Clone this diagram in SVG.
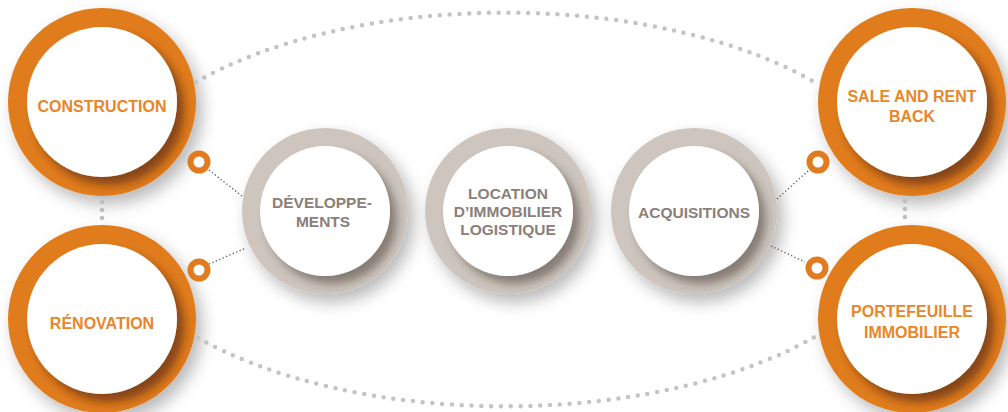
<svg xmlns="http://www.w3.org/2000/svg" width="1008" height="412" viewBox="0 0 1008 412">
<style>
.bigdots{fill:none;stroke:#c3c6c0;stroke-width:4.5;stroke-linecap:round;stroke-dasharray:0 9.8}
.vdot{fill:#bdc0ba}
.link{fill:none;stroke:#5a5a5a;stroke-width:1.3;stroke-dasharray:1.3 2.4}
.port{fill:#fff;stroke:#e07b1f;stroke-width:6}
.oring{fill:#e07b1f}
.gring{fill:#cec6be}
.inner{fill:#fff}
.otxt{font-family:"Liberation Sans",Arial,Helvetica,sans-serif;font-weight:bold;font-size:16px;fill:#e8862a;text-anchor:middle}
.gtxt{font-family:"Liberation Sans",Arial,Helvetica,sans-serif;font-weight:bold;font-size:15.5px;fill:#8a8079;text-anchor:middle}
</style>
<defs>
<filter id="outerShadow" x="-40%" y="-40%" width="180%" height="180%">
<feDropShadow dx="6" dy="8" stdDeviation="8" flood-color="#000" flood-opacity="0.28"/>
</filter>
<filter id="innerO" x="-40%" y="-40%" width="180%" height="180%">
<feDropShadow dx="7" dy="8" stdDeviation="5" flood-color="#4a2408" flood-opacity="0.6"/>
</filter>
<filter id="innerG" x="-40%" y="-40%" width="180%" height="180%">
<feDropShadow dx="7" dy="8" stdDeviation="5" flood-color="#3a3028" flood-opacity="0.5"/>
</filter>
<clipPath id="clipO"><circle cx="0" cy="0" r="94"/></clipPath>
<clipPath id="clipG"><circle cx="0" cy="0" r="83"/></clipPath>
</defs>
<rect width="1008" height="412" fill="#fff"/>

<g id="node-construction" transform="translate(102,102)">
<circle class="oring" r="94" filter="url(#outerShadow)"/>
<g clip-path="url(#clipO)"><circle class="inner" r="75" filter="url(#innerO)"/></g>
<text class="otxt" x="0" y="10">CONSTRUCTION</text>
</g>

<g id="node-renovation" transform="translate(102,319)">
<circle class="oring" r="94" filter="url(#outerShadow)"/>
<g clip-path="url(#clipO)"><circle class="inner" r="75" filter="url(#innerO)"/></g>
<text class="otxt" x="0" y="10">RÉNOVATION</text>
</g>

<g id="node-sale" transform="translate(912,102)">
<circle class="oring" r="94" filter="url(#outerShadow)"/>
<g clip-path="url(#clipO)"><circle class="inner" r="75" filter="url(#innerO)"/></g>
<text class="otxt" x="0" y="0">SALE AND RENT</text>
<text class="otxt" x="0" y="20">BACK</text>
</g>

<g id="node-portefeuille" transform="translate(912,319)">
<circle class="oring" r="94" filter="url(#outerShadow)"/>
<g clip-path="url(#clipO)"><circle class="inner" r="75" filter="url(#innerO)"/></g>
<text class="otxt" x="0" y="-2">PORTEFEUILLE</text>
<text class="otxt" x="0" y="19">IMMOBILIER</text>
</g>

<g id="node-developpements" transform="translate(325,211)">
<circle class="gring" r="83" filter="url(#outerShadow)"/>
<g clip-path="url(#clipG)"><circle class="inner" r="65" filter="url(#innerG)"/></g>
<text class="gtxt" x="-3" y="-3">DÉVELOPPE-</text>
<text class="gtxt" x="-2" y="16">MENTS</text>
</g>

<g id="node-location" transform="translate(508,211)">
<circle class="gring" r="83" filter="url(#outerShadow)"/>
<g clip-path="url(#clipG)"><circle class="inner" r="65" filter="url(#innerG)"/></g>
<text class="gtxt" x="0" y="-12">LOCATION</text>
<text class="gtxt" x="0" y="6">D’IMMOBILIER</text>
<text class="gtxt" x="0" y="24">LOGISTIQUE</text>
</g>

<g id="node-acquisitions" transform="translate(694,211)">
<circle class="gring" r="83" filter="url(#outerShadow)"/>
<g clip-path="url(#clipG)"><circle class="inner" r="65" filter="url(#innerG)"/></g>
<text class="gtxt" x="0" y="7">ACQUISITIONS</text>
</g>

<g id="connectors">
<path class="bigdots" d="M196,82 A406,197 0 0,1 818,84"/>
<path class="bigdots" d="M198,338 A406,197 0 0,0 818,335"/>
<circle class="vdot" cx="102" cy="202" r="2.3"/>
<circle class="vdot" cx="102" cy="210" r="2.3"/>
<circle class="vdot" cx="102" cy="218" r="2.3"/>
<circle class="vdot" cx="905" cy="201" r="2.3"/>
<circle class="vdot" cx="905" cy="209" r="2.3"/>
<circle class="vdot" cx="905" cy="217" r="2.3"/>
<path class="link" d="M209,170 L242,196"/>
<path class="link" d="M209,264 L246,248"/>
<path class="link" d="M777,199 L809,170"/>
<path class="link" d="M771,246 L805,262"/>
</g>

<g id="port-construction"><circle class="port" cx="199" cy="162" r="8.5"/></g>
<g id="port-renovation"><circle class="port" cx="199" cy="270" r="8.5"/></g>
<g id="port-sale"><circle class="port" cx="818" cy="162" r="8.5"/></g>
<g id="port-portefeuille"><circle class="port" cx="817" cy="268" r="8.5"/></g>
</svg>
